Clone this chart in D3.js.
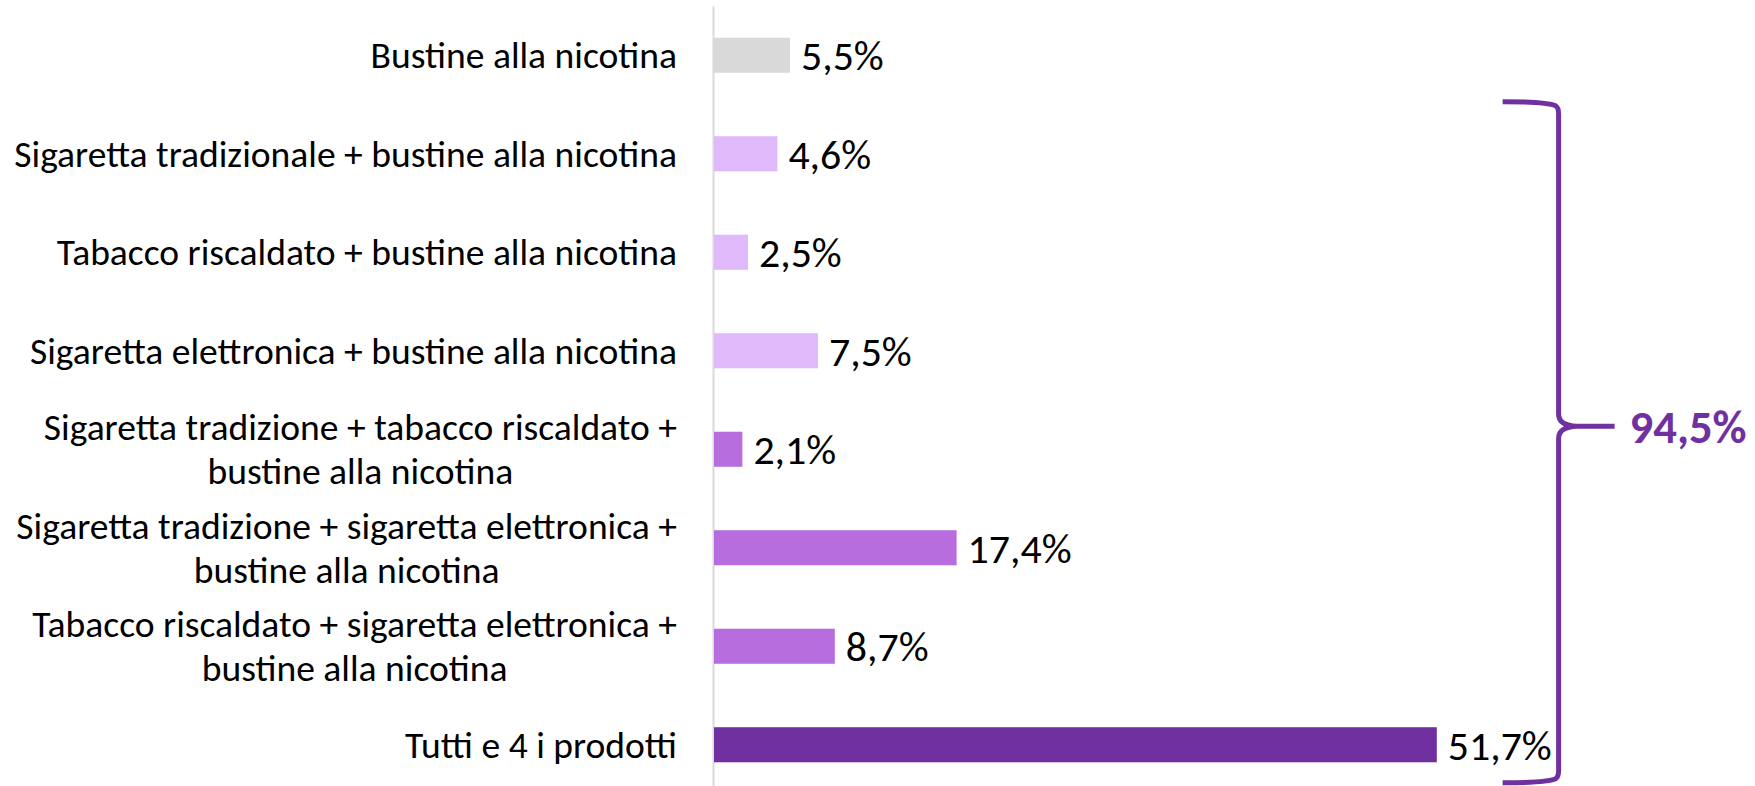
<!DOCTYPE html>
<html>
<head>
<meta charset="utf-8">
<script src="https://cdn.jsdelivr.net/npm/d3@7"></script>
<style>
  html, body { margin: 0; padding: 0; background: #ffffff; }
  svg { display: block; }
</style>
</head>
<body>
<svg id="chart" width="1755" height="786"></svg>
<script>
// ---- data ----
const categories = [
  "Bustine alla nicotina",
  "Sigaretta tradizionale + bustine alla nicotina",
  "Tabacco riscaldato + bustine alla nicotina",
  "Sigaretta elettronica + bustine alla nicotina",
  "Sigaretta tradizione + tabacco riscaldato + bustine alla nicotina",
  "Sigaretta tradizione + sigaretta elettronica + bustine alla nicotina",
  "Tabacco riscaldato + sigaretta elettronica + bustine alla nicotina",
  "Tutti e 4 i prodotti"
];
const labelLines = [
  ["Bustine alla nicotina"],
  ["Sigaretta tradizionale + bustine alla nicotina"],
  ["Tabacco riscaldato + bustine alla nicotina"],
  ["Sigaretta elettronica + bustine alla nicotina"],
  ["Sigaretta tradizione + tabacco riscaldato +", "bustine alla nicotina"],
  ["Sigaretta tradizione + sigaretta elettronica +", "bustine alla nicotina"],
  ["Tabacco riscaldato + sigaretta elettronica +", "bustine alla nicotina"],
  ["Tutti e 4 i prodotti"]
];
const values = [5.5, 4.6, 2.5, 7.5, 2.1, 17.4, 8.7, 51.7];
const groups = ["solo", "due", "due", "due", "tre", "tre", "tre", "tutti"];
const groupNames = ["solo", "due", "tre", "tutti"];
const groupColors = ["#d9d9d9", "#e0b9fb", "#b86ddf", "#7030a0"];
const bracketFrom = 1;  // bracket covers categories 1..7
const bracketColor = "#7030a0";

// ---- setup ----
const FONT = "Carlito, Lato, 'Open Sans', sans-serif";
const svg = d3.select("#chart");
const fmt = v => d3.format(".1f")(v).replace(".", ",") + "%";

function fitSize(text, weight, target) {
  const t = svg.append("text").attr("font-family", FONT).attr("font-weight", weight)
    .attr("font-size", 100).text(text);
  const w = t.node().getComputedTextLength();
  t.remove();
  return 100 * target / w;
}
const labelSize = Math.min(40, fitSize("Sigaretta tradizionale + bustine alla nicotina", 400, 663));
const valueSize = Math.min(46, fitSize("51,7%", 400, 104));
const totalSize = Math.min(50, fitSize("94,5%", 700, 117));

const x = d3.scaleLinear().domain([0, 60]).range([713, 713 + 840]);
const y = d3.scaleBand().domain(categories).range([6, 794]).paddingInner(0.644).paddingOuter(0.322);
const color = d3.scaleOrdinal().domain(groupNames).range(groupColors);
const yc = c => y(c) + y.bandwidth() / 2;

// vertical axis line
const axis = d3.axisLeft(d3.scaleLinear().domain([0, 1]).range([6, 786])).ticks(0).tickSize(0).tickFormat("");
const axisG = svg.append("g").attr("transform", `translate(${x(0)},0)`).call(axis);
axisG.select(".domain").attr("stroke", "#d9d9d9").attr("stroke-width", 2);

// bars
svg.append("g").selectAll("rect").data(values).join("rect")
  .attr("x", x(0) + 1)
  .attr("y", (d, i) => y(categories[i]))
  .attr("width", d => x(d) - x(0) - 1)
  .attr("height", y.bandwidth())
  .attr("fill", (d, i) => color(groups[i]));

// value labels
svg.append("g").selectAll("text").data(values).join("text")
  .attr("x", d => x(d) + 11)
  .attr("y", (d, i) => yc(categories[i]))
  .attr("dy", "0.36em")
  .attr("font-family", FONT)
  .attr("font-size", valueSize)
  .attr("fill", "#000")
  .text(d => fmt(d));

// category labels
const labelRight = 677;
const lineGap = 44;
const lg = svg.append("g").attr("font-family", FONT).attr("font-size", labelSize).attr("fill", "#000");
labelLines.forEach((lines, i) => {
  const cy = yc(categories[i]);
  if (lines.length === 1) {
    lg.append("text").attr("x", labelRight).attr("y", cy).attr("dy", "0.35em")
      .attr("text-anchor", "end").text(lines[0]);
  } else {
    const t1 = lg.append("text").attr("text-anchor", "end").attr("x", labelRight)
      .attr("y", cy - lineGap / 2).attr("dy", "0.35em").text(lines[0]);
    const w1 = t1.node().getComputedTextLength();
    const center = labelRight - w1 / 2;
    lines.slice(1).forEach((ln, k) => {
      lg.append("text").attr("text-anchor", "middle").attr("x", center)
        .attr("y", cy - lineGap / 2 + lineGap * (k + 1)).attr("dy", "0.35em").text(ln);
    });
  }
});

// bracket
const total = d3.sum(values.slice(bracketFrom));
const bx0 = x(56.4);               // left end of bracket arms
const bx = bx0 + 56;               // vertical stroke
const tipX = bx + 56;
const bTop = yc(categories[bracketFrom]) - 52;
const bBottom = yc(categories[categories.length - 1]) + 38;
const bMid = (bTop + bBottom) / 2 - 16;
const p = d3.path();
p.moveTo(bx0, bTop);
p.quadraticCurveTo(bx - 12, bTop, bx - 3, bTop + 4);
p.quadraticCurveTo(bx, bTop + 6, bx, bTop + 12);
p.lineTo(bx, bMid - 12);
p.quadraticCurveTo(bx, bMid - 1, bx + 18, bMid);
p.lineTo(tipX, bMid);
p.moveTo(bx + 18, bMid);
p.quadraticCurveTo(bx, bMid + 1, bx, bMid + 12);
p.lineTo(bx, bBottom - 12);
p.quadraticCurveTo(bx, bBottom - 6, bx - 3, bBottom - 4);
p.quadraticCurveTo(bx - 12, bBottom, bx0, bBottom);
svg.append("path").attr("d", p.toString()).attr("fill", "none")
  .attr("stroke", bracketColor).attr("stroke-width", 5).attr("stroke-linejoin", "round");

svg.append("text").attr("x", tipX + 15).attr("y", bMid).attr("dy", "0.35em")
  .attr("font-family", FONT).attr("font-weight", 700).attr("font-size", totalSize)
  .attr("fill", bracketColor).text(fmt(total));
</script>
</body>
</html>
